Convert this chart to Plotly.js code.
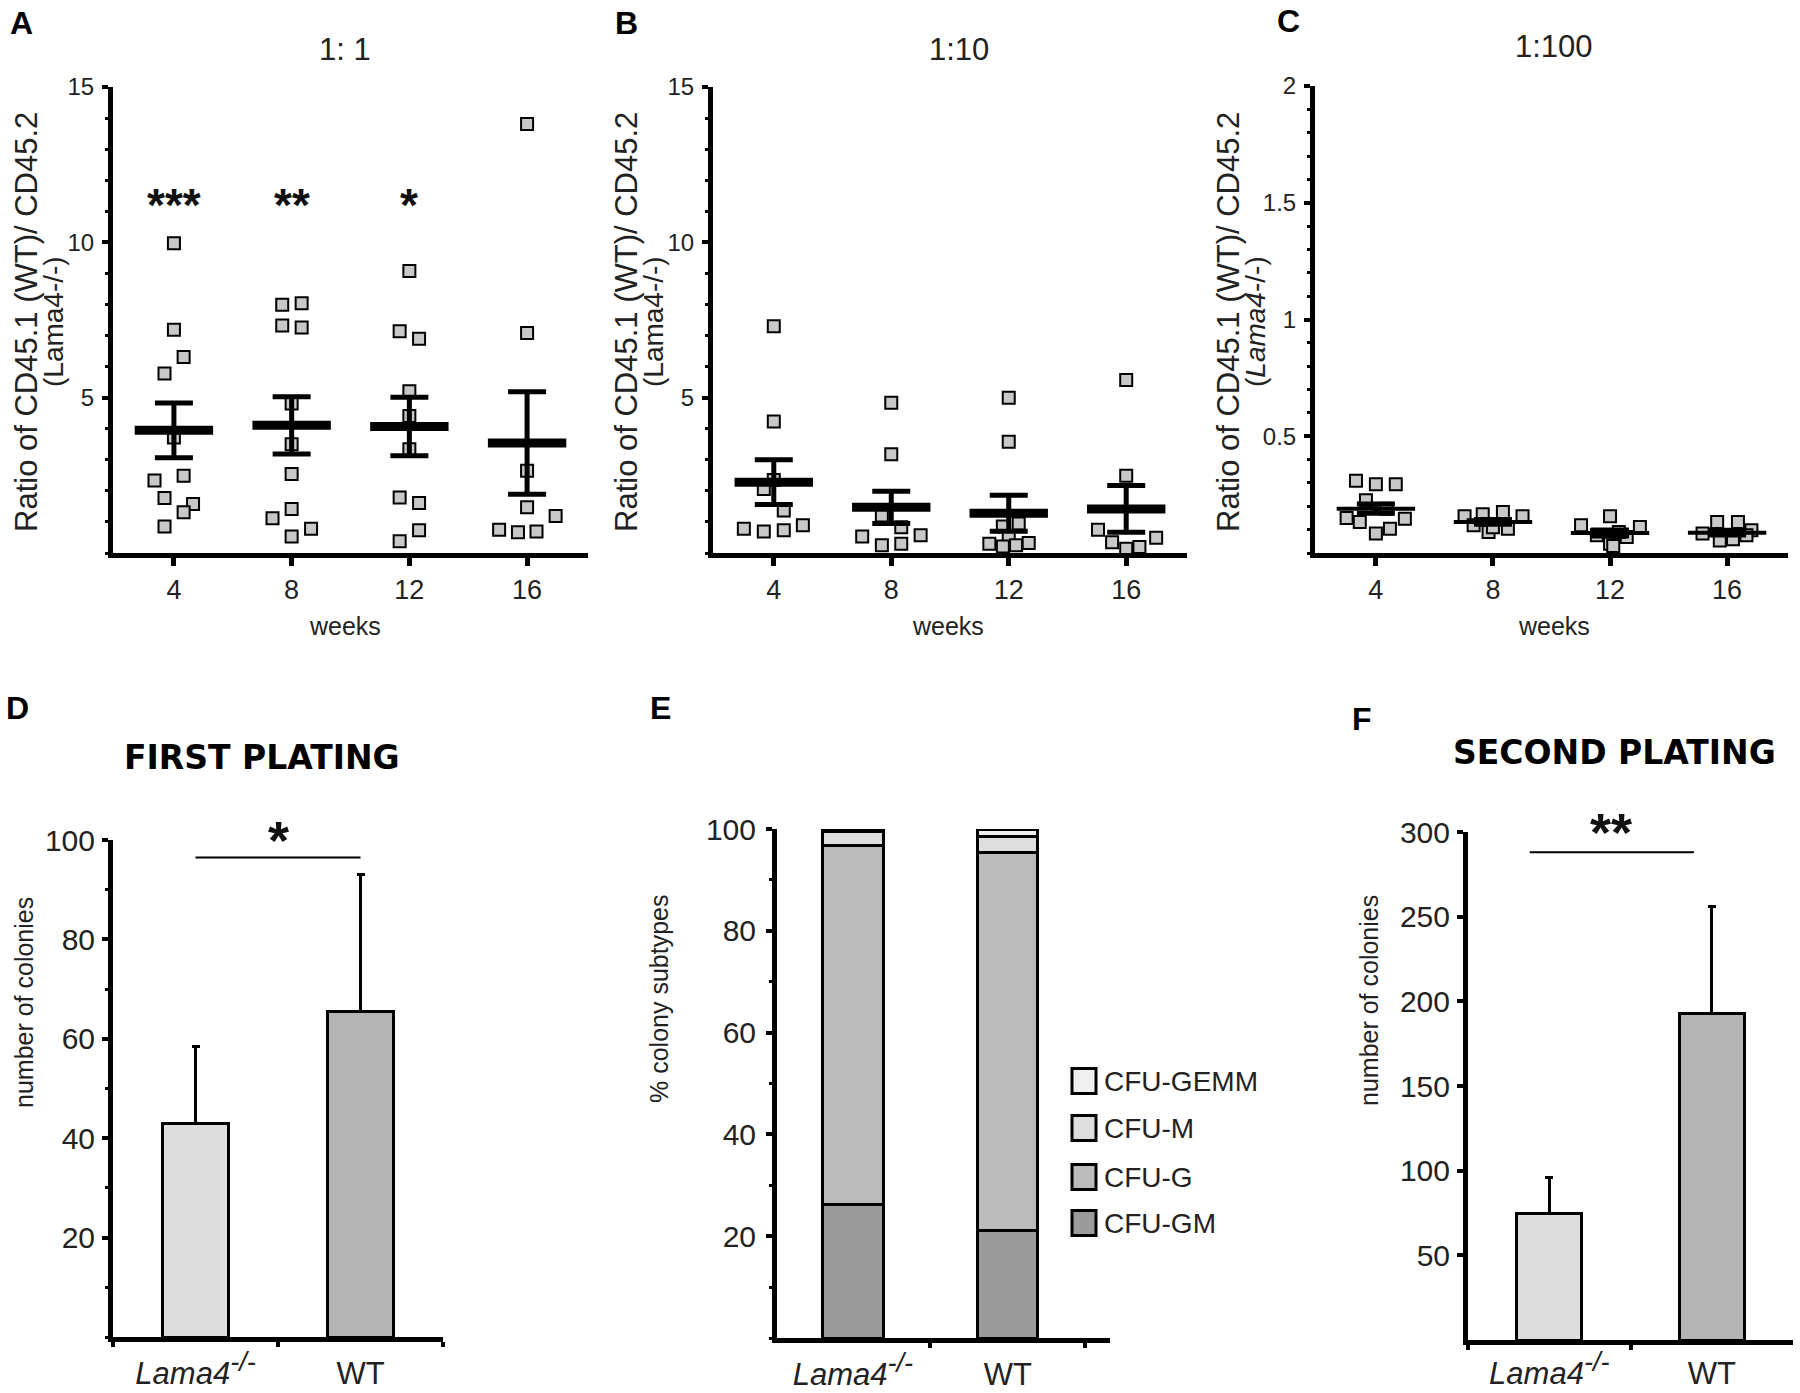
<!DOCTYPE html>
<html><head><meta charset="utf-8">
<script src="https://cdn.plot.ly/plotly-3.0.1.min.js"></script>
<style>html,body{margin:0;padding:0;background:#fff}</style>
</head><body><div id="chart" style="width:1800px;height:1393px"></div>
<script>
// ---------- DATA ----------
const weeks = [4, 8, 12, 16];

// Panel A (1:1) individual values and horizontal jitter (weeks)
const A_w4 = [9.97, 7.19, 6.31, 5.78, 3.72, 2.33, 2.49, 1.77, 1.58, 1.31, 0.85];
const A_w4_dx = [0, 0, 0.33, -0.32, 0, -0.66, 0.33, -0.32, 0.65, 0.33, -0.32];
const A_w8 = [7.99, 8.04, 7.32, 7.26, 4.81, 3.50, 2.54, 1.42, 1.12, 0.78, 0.53];
const A_w8_dx = [-0.32, 0.34, -0.32, 0.34, 0, 0, 0, 0, -0.65, 0.66, 0];
const A_w12 = [9.08, 7.14, 6.90, 5.21, 4.41, 3.34, 1.79, 1.61, 0.73, 0.38];
const A_w12_dx = [0, -0.33, 0.33, 0, 0, 0, -0.33, 0.33, 0.33, -0.33];
const A_w16 = [13.81, 7.08, 2.65, 1.47, 1.19, 0.75, 0.67, 0.69];
const A_w16_dx = [0, 0, 0, 0, 0.97, -0.95, -0.31, 0.32];
const A_mean = [3.95, 4.11, 4.07, 3.54];
const A_sem = [0.88, 0.92, 0.94, 1.65];
const A_stars = ['***', '**', '*'];

// Panel B (1:10)
const B_w4 = [7.30, 4.23, 2.35, 2.06, 1.37, 0.78, 0.69, 0.73, 0.89];
const B_w4_dx = [0, 0, 0, -0.34, 0.34, -1.02, -0.34, 0.34, 0.99];
const B_w8 = [4.84, 3.18, 1.21, 0.83, 0.53, 0.25, 0.30, 0.57];
const B_w8_dx = [0, 0, -0.32, 0.34, -0.99, -0.32, 0.34, 1.0];
const B_w12 = [5.0, 3.58, 0.95, 0.85, 0.5, 0.30, 0.21, 0.25, 0.32];
const B_w12_dx = [0, 0, 0.34, -0.2, 0, -0.66, -0.2, 0.25, 0.68];
const B_w16 = [5.57, 2.49, 0.75, 0.49, 0.35, 0.14, 0.19];
const B_w16_dx = [0, 0, -0.96, 1.02, -0.48, 0, 0.45];
const B_mean = [2.28, 1.47, 1.28, 1.42];
const B_sem = [0.72, 0.52, 0.58, 0.75];

// Panel C (1:100)
const C_w4 = [0.309, 0.294, 0.294, 0.226, 0.19, 0.15, 0.133, 0.147, 0.104, 0.083];
const C_w4_dx = [-0.68, 0, 0.68, -0.34, 0.36, -1.0, -0.55, 0.99, 0.48, 0];
const C_w8 = [0.157, 0.166, 0.176, 0.157, 0.119, 0.09, 0.104, 0.11];
const C_w8_dx = [-0.97, -0.35, 0.34, 1.01, -0.66, -0.15, 0.51, 0];
const C_w12 = [0.157, 0.119, 0.111, 0.076, 0.069, 0.04, 0.03, 0.09];
const C_w12_dx = [0, -0.99, 1.02, -0.45, 0.57, 0, 0.11, 0.3];
const C_w16 = [0.133, 0.133, 0.083, 0.097, 0.054, 0.059, 0.076];
const C_w16_dx = [-0.34, 0.37, -0.84, 0.83, -0.25, 0.2, 0.66];
const C_mean = [0.19, 0.133, 0.086, 0.087];
const C_sem = [0.02, 0.01, 0.013, 0.01];

// Panels D-F
const groups = ['Lama4-/-', 'WT'];
const groupLabels = ['<i>Lama4<sup><span style="font-size:27px">-/-</span></sup></i>', 'WT'];
const D_mean = [43, 65.5];
const D_sem = [15.4, 27.5];
const subtypes = ['CFU-GM', 'CFU-G', 'CFU-M', 'CFU-GEMM'];
const E_GM = [26.3, 21.1];
const E_G = [70.4, 74.2];
const E_M = [2.9, 3.2];
const E_GEMM = [0.4, 1.5];
const F_mean = [75, 193];
const F_sem = [21, 63];

// ---------- STYLE / LAYOUT ----------
const W = 1800, H = 1393;
const FONT = 'Liberation Sans, Arial, Helvetica, sans-serif';
const px = v => v / W;
const py = v => 1 - v / H;
const domX = (a, b) => [a / W, b / W];
const domY = (top, bottom) => [1 - bottom / H, 1 - top / H];
const ptColor = '#c8c8c8';
const subColors = ['#9b9b9b', '#bbbbbb', '#dedede', '#efefef'];

const traces = [];
function dotPanel(xa, ya, sets, means, sems, meanW) {
  sets.forEach((s, i) => {
    traces.push({
      type: 'scatter', mode: 'markers', xaxis: xa, yaxis: ya,
      x: s[0].map((v, j) => weeks[i] + s[1][j]), y: s[0],
      marker: {symbol: 'square', size: 12, color: ptColor, line: {color: '#000', width: 2}},
      hoverinfo: 'skip'
    });
  });
  traces.push({
    type: 'scatter', mode: 'markers', xaxis: xa, yaxis: ya,
    x: weeks, y: means,
    marker: {symbol: 'line-ew', size: 56, color: '#000', line: {color: '#000', width: meanW}},
    error_y: {type: 'data', array: sems, visible: true, color: '#000', thickness: 5, width: 19},
    hoverinfo: 'skip'
  });
}
dotPanel('x', 'y', [[A_w4, A_w4_dx], [A_w8, A_w8_dx], [A_w12, A_w12_dx], [A_w16, A_w16_dx]], A_mean, A_sem, 9);
dotPanel('x2', 'y2', [[B_w4, B_w4_dx], [B_w8, B_w8_dx], [B_w12, B_w12_dx], [B_w16, B_w16_dx]], B_mean, B_sem, 9);
dotPanel('x3', 'y3', [[C_w4, C_w4_dx], [C_w8, C_w8_dx], [C_w12, C_w12_dx], [C_w16, C_w16_dx]], C_mean, C_sem, 4);

traces.push({
  type: 'bar', x: groups, y: D_mean, xaxis: 'x4', yaxis: 'y4', width: 0.4,
  marker: {color: ['#dddddd', '#b4b4b4'], line: {color: '#000', width: 3}},
  error_y: {type: 'data', array: D_sem, arrayminus: [0, 0], symmetric: false, color: '#000', thickness: 3, width: 4},
  hoverinfo: 'skip'
});
[E_GM, E_G, E_M, E_GEMM].forEach((vals, k) => {
  traces.push({
    type: 'bar', name: subtypes[k], x: groups, y: vals, xaxis: 'x5', yaxis: 'y5', width: 0.39,
    marker: {color: subColors[k], line: {color: '#000', width: 3}}, hoverinfo: 'skip'
  });
});
traces.push({
  type: 'bar', x: groups, y: F_mean, xaxis: 'x6', yaxis: 'y6', width: 0.4,
  marker: {color: ['#dddddd', '#b4b4b4'], line: {color: '#000', width: 3}},
  error_y: {type: 'data', array: F_sem, arrayminus: [0, 0], symmetric: false, color: '#000', thickness: 3, width: 4},
  hoverinfo: 'skip'
});

function weekX(dom, range) {
  return {domain: dom, range: range, tickmode: 'array', tickvals: weeks, ticks: 'outside', ticklen: 8, tickwidth: 5,
    tickcolor: '#000', showline: true, linewidth: 5, linecolor: '#000', showgrid: false, zeroline: false,
    tickfont: {family: FONT, size: 27, color: '#222'}, ticklabelstandoff: 1, fixedrange: true};
}
function valY(dom, range, tv, tt, minorD, fs, so) {
  const o = {domain: dom, range: range, tickmode: 'array', tickvals: tv, ticktext: tt, ticks: 'outside', ticklen: 6, tickwidth: 4,
    tickcolor: '#000', showline: true, linewidth: 5, linecolor: '#000', showgrid: false, zeroline: false,
    tickfont: {family: FONT, size: fs, color: '#222'}, ticklabelstandoff: so, fixedrange: true};
  if (minorD) o.minor = {dtick: minorD, ticks: 'outside', ticklen: 3, tickwidth: 3, tickcolor: '#000', showgrid: false};
  return o;
}
function catX(dom, range, so) {
  return {domain: dom, type: 'category', categoryarray: groups, range: range, tickmode: 'array', tickvals: groups,
    ticktext: groupLabels, ticks: 'outside', tickson: 'boundaries', ticklen: 5, tickwidth: 4, tickcolor: '#000',
    showline: true, linewidth: 5, linecolor: '#000', showgrid: false, zeroline: false,
    tickfont: {family: FONT, size: 31, color: '#222'}, ticklabelstandoff: so, fixedrange: true};
}

const layout = {
  width: W, height: H, margin: {l: 0, r: 0, t: 0, b: 0}, paper_bgcolor: '#fff', plot_bgcolor: 'rgba(0,0,0,0)',
  showlegend: false, barmode: 'stack', font: {family: FONT, color: '#222'},
  xaxis: Object.assign(weekX(domX(113, 588), [1.93, 18.07]), {anchor: 'y'}),
  yaxis: Object.assign(valY(domY(87, 553), [0, 15], [5, 10, 15], ['5', '10', '15'], 1, 24, 3), {anchor: 'x'}),
  xaxis2: Object.assign(weekX(domX(713, 1187), [1.93, 18.07]), {anchor: 'y2'}),
  yaxis2: Object.assign(valY(domY(87, 553), [0, 15], [5, 10, 15], ['5', '10', '15'], 1, 24, 3), {anchor: 'x2'}),
  xaxis3: Object.assign(weekX(domX(1315, 1788), [1.92, 18.08]), {anchor: 'y3'}),
  yaxis3: Object.assign(valY(domY(86, 553), [0, 2], [0.5, 1, 1.5, 2], ['0.5', '1', '1.5', '2'], 0.1, 24, 3), {anchor: 'x3'}),
  xaxis4: Object.assign(catX(domX(113, 443), [-0.5, 1.5], 5), {anchor: 'y4'}),
  yaxis4: Object.assign(valY(domY(840, 1337), [0, 100], [20, 40, 60, 80, 100], ['20', '40', '60', '80', '100'], 10, 30, 1), {anchor: 'x4'}),
  xaxis5: Object.assign(catX(domX(777, 1110), [-0.49, 1.66], 5), {anchor: 'y5'}),
  yaxis5: Object.assign(valY(domY(829, 1338), [0, 100], [20, 40, 60, 80, 100], ['20', '40', '60', '80', '100'], 10, 30, 4), {anchor: 'x5'}),
  xaxis6: Object.assign(catX(domX(1468, 1793), [-0.5, 1.5], 2), {anchor: 'y6'}),
  yaxis6: Object.assign(valY(domY(832, 1340), [0, 300], [50, 100, 150, 200, 250, 300], ['50', '100', '150', '200', '250', '300'], null, 30, 1), {anchor: 'x6'}),
  annotations: [], shapes: []
};

const ann = (o) => layout.annotations.push(Object.assign({xref: 'paper', yref: 'paper', showarrow: false, xanchor: 'center', yanchor: 'middle'}, o));

// panel letters
[['A', 21, 23], ['B', 626, 23], ['C', 1288, 21], ['D', 17, 708], ['E', 660, 708], ['F', 1362, 719]].forEach(l =>
  ann({x: px(l[1]), y: py(l[2]), text: '<b>' + l[0] + '</b>', font: {family: FONT, size: 32, color: '#000'}}));

// titles A-C
[['1: 1', 345, 49], ['1:10', 959, 49], ['1:100', 1554, 47]].forEach(t =>
  ann({x: px(t[1]), y: py(t[2]), text: t[0], font: {family: FONT, size: 31, color: '#222'}}));

// y labels A-C (two overlapping lines)
[[26, 53, '(Lama4-/-)'], [626, 653, '(Lama4-/-)'], [1228, 1255, '(<i>Lama4</i>-/-)']].forEach(t => {
  ann({x: px(t[0]), y: py(322), text: 'Ratio of CD45.1 (WT)/ CD45.2', textangle: -90, font: {family: FONT, size: 31, color: '#222'}});
  ann({x: px(t[1]), y: py(322), text: t[2], textangle: -90, font: {family: FONT, size: 28, color: '#222'}});
});
// weeks
[345, 948, 1554].forEach(x => ann({x: px(x), y: py(626), text: 'weeks', font: {family: FONT, size: 25, color: '#222'}}));

// significance stars A
A_stars.forEach((s, i) => ann({xref: 'x', yref: 'y', x: weeks[i], y: 11.19, text: '<b>' + s + '</b>', font: {family: FONT, size: 46, color: '#111'}}));

// D-F titles & y labels
ann({x: px(262), y: py(757), text: '<b>FIRST PLATING</b>', font: {family: 'DejaVu Sans, sans-serif', size: 33, color: '#000'}});
ann({x: px(1614), y: py(752), text: '<b>SECOND PLATING</b>', font: {family: 'DejaVu Sans, sans-serif', size: 33, color: '#000'}});
ann({x: px(24), y: py(1003), text: 'number of colonies', textangle: -90, font: {family: FONT, size: 25, color: '#222'}});
ann({x: px(659), y: py(999), text: '% colony subtypes', textangle: -90, font: {family: FONT, size: 25, color: '#222'}});
ann({x: px(1369), y: py(1001), text: 'number of colonies', textangle: -90, font: {family: FONT, size: 25, color: '#222'}});

// significance D & F
layout.shapes.push({type: 'line', xref: 'x4', yref: 'y4', x0: 0, x1: 1, y0: 96.5, y1: 96.5, line: {color: '#000', width: 2}});
ann({xref: 'x4', yref: 'y4', x: 0.5, y: 99.9, text: '<b>*</b>', font: {family: FONT, size: 54, color: '#111'}});
layout.shapes.push({type: 'line', xref: 'x6', yref: 'y6', x0: -0.12, x1: 0.89, y0: 288, y1: 288, line: {color: '#000', width: 2}});
ann({xref: 'x6', yref: 'y6', x: 0.38, y: 300, text: '<b>**</b>', font: {family: FONT, size: 54, color: '#111'}});

// legend E (top to bottom: GEMM, M, G, GM)
const legY = [1081, 1128, 1177, 1223];
[3, 2, 1, 0].forEach((k, i) => {
  layout.shapes.push({type: 'rect', xref: 'paper', yref: 'paper', x0: px(1072), x1: px(1096), y0: py(legY[i] + 12.5), y1: py(legY[i] - 12.5),
    fillcolor: subColors[k], line: {color: '#000', width: 3}});
  ann({x: px(1102), y: py(legY[i]), xanchor: 'left', text: subtypes[k], font: {family: FONT, size: 28, color: '#222'}});
});

Plotly.newPlot('chart', traces, layout, {displayModeBar: false, staticPlot: true});
</script>
</body></html>
